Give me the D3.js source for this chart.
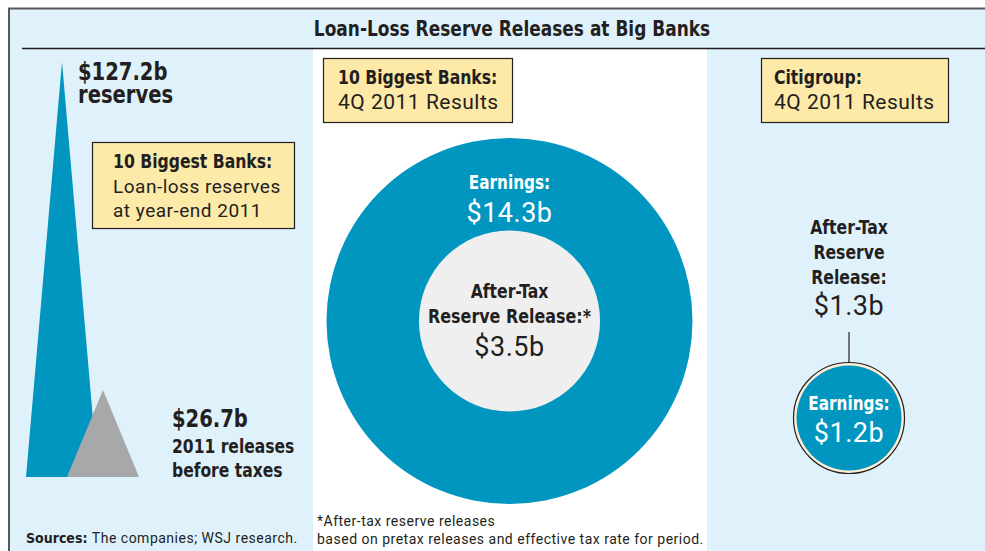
<!DOCTYPE html>
<html>
<head>
<meta charset="utf-8">
<script src="https://cdn.jsdelivr.net/npm/d3@7"></script>
<style>
  html, body { margin: 0; padding: 0; background: #ffffff; }
  svg { display: block; }
  .cond { font-family: "DejaVu Sans Condensed", "DejaVu Sans", sans-serif; font-stretch: condensed; font-weight: bold; }
  .reg { font-family: "Roboto", "Liberation Sans", sans-serif; letter-spacing: 0.5px; }
</style>
</head>
<body>
<svg id="chart" width="985" height="551"></svg>
<script>
// ---- Data ----
const title = "Loan-Loss Reserve Releases at Big Banks";
const reserveLabels = ["Loan-loss reserves", "2011 releases"];
const reserveValues = [127.2, 26.7];          // $b, 10 biggest banks, 2011
const bigBankLabels = ["Earnings", "After-Tax Reserve Release"];
const bigBankValues = [14.3, 3.5];            // $b, 4Q 2011
const citiLabels = ["Earnings", "After-Tax Reserve Release"];
const citiValues = [1.2, 1.3];                // $b, 4Q 2011

const C = {
  blue: "#0096bf", lightBlue: "#dff1fb", gray: "#a7a8aa", inner: "#efefef",
  yellow: "#fde9a8", ink: "#231f20", frame: "#58585a", cream: "#fdeed6"
};
const SX = 0.87; // horizontal squeeze for the bold condensed face

const svg = d3.select("#chart");
const fmt = v => "$" + v + "b";

// ---- Backgrounds / frame ----
svg.append("rect").attr("x", 9).attr("y", 9).attr("width", 976).attr("height", 542).attr("fill", C.lightBlue);
svg.append("rect").attr("x", 313).attr("y", 49).attr("width", 394).attr("height", 502).attr("fill", "#ffffff");
svg.append("line").attr("x1", 8).attr("x2", 985).attr("y1", 8.5).attr("y2", 8.5).attr("stroke", C.frame).attr("stroke-width", 2);
svg.append("line").attr("x1", 9).attr("x2", 9).attr("y1", 8).attr("y2", 551).attr("stroke", C.frame).attr("stroke-width", 2);
svg.append("line").attr("x1", 22).attr("x2", 985).attr("y1", 48.5).attr("y2", 48.5).attr("stroke", C.ink).attr("stroke-width", 1.5);

// helper: one text element per line; bold condensed lines get squeezed horizontally
function lines(g, x, y, arr, opts) {
  arr.forEach((l, i) => {
    const sx = l.cls === "cond" ? (l.sx || SX) : 1;
    g.append("g").attr("transform", `translate(${x},${y + i * opts.lh}) scale(${sx},1)`)
      .append("text").attr("class", l.cls).attr("font-size", l.size)
      .attr("text-anchor", opts.anchor || "start").attr("fill", opts.fill || C.ink)
      .text(l.text);
  });
}

lines(svg, 512, 36, [{ text: title, cls: "cond", size: 21, sx: 0.9 }], { lh: 0, anchor: "middle" });

// ---- Left panel: triangles ----
const baseY = 477;
const yH = d3.scaleLinear().domain([0, reserveValues[0]]).range([0, 415]);
const triX = d3.scalePoint().domain(reserveLabels).range([62, 103]);
const halfW = 36;
const tri = d => {
  const cx = triX(d.label), h = yH(d.value);
  return `M${cx - halfW},${baseY}L${cx},${baseY - h}L${cx + halfW},${baseY}Z`;
};
const triData = reserveLabels.map((l, i) => ({ label: l, value: reserveValues[i] }));
svg.selectAll("path.tri").data(triData).join("path").attr("class", "tri")
  .attr("d", tri).attr("fill", (d, i) => i === 0 ? C.blue : C.gray);

lines(svg, 78, 80, [
  { text: fmt(reserveValues[0]), cls: "cond", size: 25 },
  { text: "reserves", cls: "cond", size: 25 }
], { lh: 23 });

// yellow box 1
svg.append("rect").attr("x", 92.5).attr("y", 142.5).attr("width", 202).attr("height", 86)
  .attr("fill", C.yellow).attr("stroke", C.ink).attr("stroke-width", 1.2);
lines(svg, 113, 168, [
  { text: "10 Biggest Banks:", cls: "cond", size: 20 },
  { text: "Loan-loss reserves", cls: "reg", size: 19 },
  { text: "at year-end 2011", cls: "reg", size: 19 }
], { lh: 24.5 });

lines(svg, 172, 427, [
  { text: fmt(reserveValues[1]), cls: "cond", size: 25 }
], { lh: 24 });
lines(svg, 172, 453, [
  { text: "2011 releases", cls: "cond", size: 19, sx: 0.91 },
  { text: "before taxes", cls: "cond", size: 19, sx: 0.91 }
], { lh: 24 });

const src = svg.append("text").attr("x", 26).attr("y", 543).attr("font-size", 14).attr("fill", C.ink);
src.append("tspan").attr("class", "cond").text("Sources: ");
src.append("tspan").attr("class", "reg").attr("letter-spacing", 0.3).text("The companies; WSJ research.");

// ---- Middle panel: nested circles ----
const r = d3.scaleSqrt().domain([0, bigBankValues[0]]).range([0, 183]);
const mcx = 509.5, mcy = 321;
svg.selectAll("circle.big").data(bigBankValues).join("circle").attr("class", "big")
  .attr("cx", mcx).attr("cy", mcy).attr("r", d => r(d))
  .attr("fill", (d, i) => i === 0 ? C.blue : C.inner);

svg.append("rect").attr("x", 323.5).attr("y", 58.5).attr("width", 189).attr("height", 64)
  .attr("fill", C.yellow).attr("stroke", C.ink).attr("stroke-width", 1.2);
lines(svg, 338, 84, [
  { text: "10 Biggest Banks:", cls: "cond", size: 20 },
  { text: "4Q 2011 Results", cls: "reg", size: 21 }
], { lh: 25 });

lines(svg, mcx, 189, [
  { text: bigBankLabels[0] + ":", cls: "cond", size: 20, sx: 0.85 },
  { text: fmt(bigBankValues[0]), cls: "reg", size: 27 }
], { lh: 33, anchor: "middle", fill: "#ffffff" });

lines(svg, mcx, 298, [
  { text: bigBankLabels[1].split(" ")[0], cls: "cond", size: 20 },
  { text: "Reserve Release:*", cls: "cond", size: 20, sx: 0.885 }
], { lh: 25, anchor: "middle" });
lines(svg, mcx, 356, [
  { text: fmt(bigBankValues[1]), cls: "reg", size: 27 }
], { lh: 25, anchor: "middle" });

lines(svg, 317, 526, [
  { text: "*After-tax reserve releases", cls: "reg", size: 14 },
  { text: "based on pretax releases and effective tax rate for period.", cls: "reg", size: 14 }
], { lh: 18 });

// ---- Right panel: Citigroup ----
const ccx = 849, ccy = 418;
svg.append("rect").attr("x", 761.5).attr("y", 58.5).attr("width", 187).attr("height", 64)
  .attr("fill", C.yellow).attr("stroke", C.ink).attr("stroke-width", 1.2);
lines(svg, 774, 84, [
  { text: "Citigroup:", cls: "cond", size: 20 },
  { text: "4Q 2011 Results", cls: "reg", size: 21 }
], { lh: 25 });

lines(svg, ccx, 234, [
  { text: "After-Tax", cls: "cond", size: 20 },
  { text: "Reserve", cls: "cond", size: 20 },
  { text: "Release:", cls: "cond", size: 20 }
], { lh: 25, anchor: "middle" });
lines(svg, ccx, 315, [
  { text: fmt(citiValues[1]), cls: "reg", size: 27 }
], { lh: 25, anchor: "middle" });

const cr = r(citiValues[0]);
svg.append("line").attr("x1", ccx).attr("x2", ccx).attr("y1", 332).attr("y2", ccy - cr - 3)
  .attr("stroke", C.ink).attr("stroke-width", 1.2);
svg.append("circle").attr("cx", ccx).attr("cy", ccy).attr("r", cr + 2.5)
  .attr("fill", C.cream).attr("stroke", C.ink).attr("stroke-width", 1.2);
svg.append("circle").attr("cx", ccx).attr("cy", ccy).attr("r", cr - 0.5).attr("fill", C.blue);

lines(svg, ccx, 410, [
  { text: citiLabels[0] + ":", cls: "cond", size: 20, sx: 0.85 },
  { text: fmt(citiValues[0]), cls: "reg", size: 27 }
], { lh: 32, anchor: "middle", fill: "#ffffff" });
</script>
</body>
</html>
